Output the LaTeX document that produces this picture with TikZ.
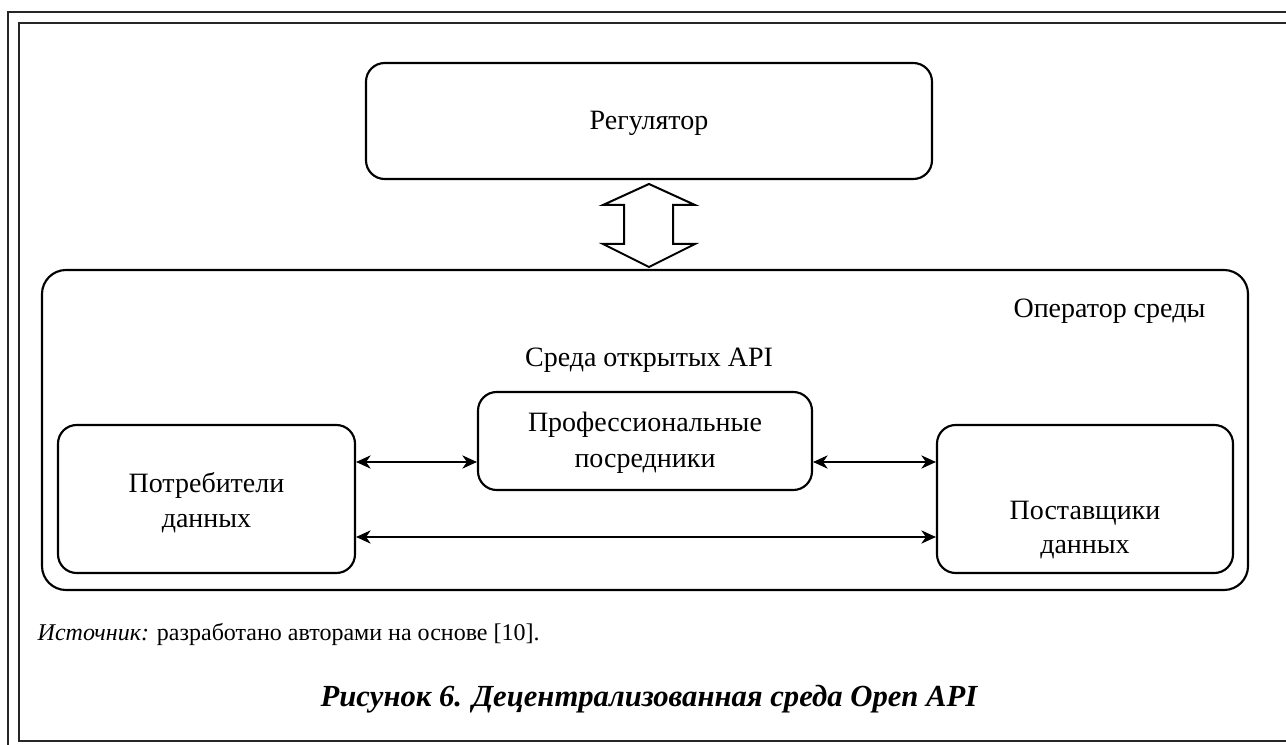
\documentclass[tikz,border=0pt]{standalone}
\usepackage{fontspec}
\setmainfont{Liberation Serif}
\usetikzlibrary{arrows.meta}

\begin{document}
\begin{tikzpicture}[x=0.75pt,y=-0.75pt,
  frameline/.style={line width=1.5pt, draw=black!85},
  rbox/.style={draw, line width=1.6pt, rounded corners=14pt, rectangle, inner sep=0pt},
  label/.style={font=\fontsize{21}{26}\selectfont, align=center},
  link/.style={line width=0.8pt, {Stealth[length=11pt,width=10pt,inset=3.5pt]}-{Stealth[length=11pt,width=10pt,inset=3.5pt]}}
]
\useasboundingbox (0,0) rectangle (1286,745);

% page frame
\draw[frameline] (8,760) -- (8,12) -- (1300,12);
\draw[frameline] (1300,23) -- (19,23) -- (19,741) -- (1300,741);

% boxes
\node[rbox, minimum width=566*0.75pt, minimum height=116*0.75pt] (reg) at (649,121) {};
\node[label] (regt) at (649,123) {Регулятор};

\node[rbox, rounded corners=18pt, minimum width=1206*0.75pt, minimum height=320*0.75pt] (env) at (645,430) {};
\node[label, anchor=base east] (oper) at (1210,318) {Оператор среды};
\node[label, anchor=base] (envt) at (649,367) {Среда открытых API};

\node[rbox, minimum width=334*0.75pt, minimum height=98*0.75pt] (prof) at (645,441) {};
\node[label, font=\fontsize{21}{27}\selectfont] (proft) at (645,443) {Профессиональные\\посредники};

\node[rbox, minimum width=297*0.75pt, minimum height=148*0.75pt] (cons) at (206.5,499) {};
\node[label] (const) at (206.5,503) {Потребители\\данных};

\node[rbox, minimum width=296*0.75pt, minimum height=148*0.75pt] (prov) at (1085,499) {};
\node[label] (provt) at (1085,530) {Поставщики\\данных};

% two-way block arrow between regulator and environment
\draw[line width=1.5pt, line join=miter]
  (649,184) -- (695,205) -- (673,205) -- (673,244) -- (695,244) -- (649,267)
  -- (603,244) -- (624,244) -- (624,205) -- (603,205) -- cycle;

% data exchange links
\draw[link] (cons.east |- 0,462) -- (prof.west |- 0,462);
\draw[link] (prof.east |- 0,462) -- (prov.west |- 0,462);
\draw[link] (cons.east |- 0,537) -- (prov.west |- 0,537);

% caption
\node[anchor=base west, font=\fontsize{18}{21}\selectfont] (src) at (33,640)
  {\textit{Источник:} разработано авторами на основе [10].};
\node[anchor=base, font=\fontsize{23}{27}\selectfont\bfseries\itshape] (title) at (649,706)
  {Рисунок 6. Децентрализованная среда Open API};
\end{tikzpicture}
\end{document}
